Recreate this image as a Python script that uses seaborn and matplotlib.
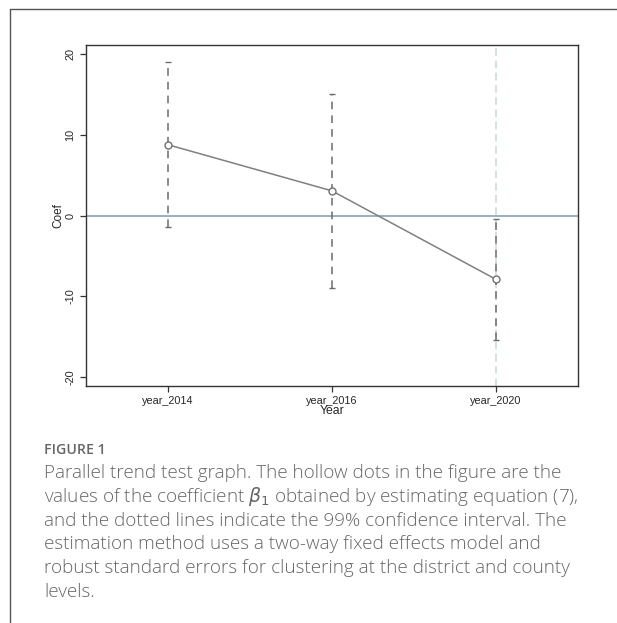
import numpy as np
import pandas as pd
import matplotlib
matplotlib.use("Agg")
import matplotlib.pyplot as plt
from matplotlib.lines import Line2D
import seaborn as sns

# ---- data ----
categories = ["year_2014", "year_2016", "year_2020"]
coef = [8.76, 3.06, -7.88]
ci_low = [-1.36, -8.92, -15.4]
ci_high = [18.96, 15.04, -0.37]
y_ticks = [-20, -10, 0, 10, 20]
ref_category = "year_2020"

caption_title = "FIGURE 1"
caption_lines = [
    "Parallel trend test graph. The hollow dots in the figure are the",
    r"values of the coefficient $\beta_1$ obtained by estimating equation (7),",
    "and the dotted lines indicate the 99% confidence interval. The",
    "estimation method uses a two-way fixed effects model and",
    "robust standard errors for clustering at the district and county",
    "levels.",
]

sns.set_style("white")
plt.rcParams["font.family"] = ["Liberation Sans", "DejaVu Sans"]

df = pd.DataFrame({"pos": np.arange(len(categories)), "coef": coef,
                   "low": ci_low, "high": ci_high, "cat": categories})

fig = plt.figure(figsize=(6.17, 6.23), dpi=100)
ax = fig.add_axes([0.1394, 0.3809, 0.7969, 0.5469])

# reference lines
ax.axhline(0, color="#7f9bb0", lw=1.1, zorder=1)
ax.axvline(categories.index(ref_category), color="#c9d9d6", lw=1.1,
           ls=(0, (5, 3)), zorder=1)

# confidence intervals
eb = ax.errorbar(df["pos"], df["coef"],
                 yerr=[df["coef"] - df["low"], df["high"] - df["coef"]],
                 fmt="none", ecolor="#6b6b6b", elinewidth=1.1,
                 capsize=2.0, capthick=1.0, zorder=2)
for lc in eb[2]:
    lc.set_linestyle((0, (5, 4)))

# coefficients
sns.lineplot(data=df, x="pos", y="coef", ax=ax, color="#808080", lw=1.1,
             marker="o", markersize=5, markerfacecolor="white",
             markeredgecolor="#707070", markeredgewidth=1.0, zorder=3)

ax.set_xlim(-0.5, 2.5)
ax.set_ylim(-21.05, 21.1)
ax.set_xticks(df["pos"])
ax.set_xticklabels(categories, fontsize=7.8)
ax.set_yticks(y_ticks)
ax.set_yticklabels([str(t) for t in y_ticks], fontsize=7.8, rotation=90,
                   va="center")
ax.tick_params(axis="both", length=4, width=0.9, color="#333333", pad=3.5,
               bottom=True, left=True)
ax.set_xlabel("Year", fontsize=8.8, labelpad=-0.5)
ax.set_ylabel("Coef", fontsize=8.5, labelpad=1)
for s in ax.spines.values():
    s.set_color("#333333")
    s.set_linewidth(1.0)

# outer frame
fig.add_artist(Line2D([0.0162, 1.0], [0.9848, 0.9848], color="#555555", lw=1.0,
                      transform=fig.transFigure))
fig.add_artist(Line2D([0.0162, 0.0162], [0.0, 0.9848], color="#555555", lw=1.0,
                      transform=fig.transFigure))

# caption
fig.text(0.0713, 1 - 450 / 623, caption_title, fontsize=10.2, color="#666666",
         family=["Open Sans", "DejaVu Sans"], fontweight="semibold",
         va="center", ha="left")
for i, line in enumerate(caption_lines):
    fig.text(0.0713, 1 - (472.7 + i * 23.9) / 623, line, fontsize=13.6,
             color="#666666", family=["Open Sans", "DejaVu Sans"],
             fontweight="light", va="center", ha="left")

fig.savefig("out.png", dpi=100)
